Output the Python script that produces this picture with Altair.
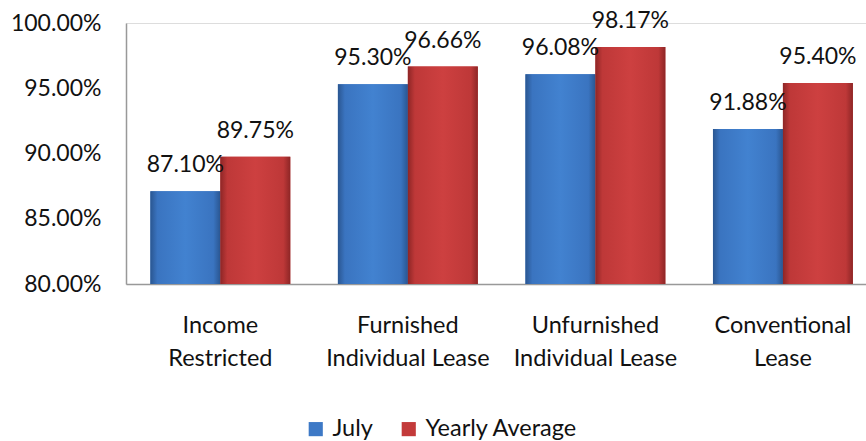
import altair as alt
import pandas as pd

categories = ["Income\nRestricted", "Furnished\nIndividual Lease", "Unfurnished\nIndividual Lease", "Conventional\nLease"]
series = ["July", "Yearly Average"]
july = [0.8710, 0.9530, 0.9608, 0.9188]
yearly = [0.8975, 0.9666, 0.9817, 0.9540]
y_ticks = [0.80, 0.85, 0.90, 0.95, 1.00]

rows = []
for c, j, y in zip(categories, july, yearly):
    rows.append({"cat": c, "series": "July", "value": j})
    rows.append({"cat": c, "series": "Yearly Average", "value": y})
df = pd.DataFrame(rows)

FONT = "Lato"
blue, red = "#3D79C6", "#C33A3A"

x_enc = alt.X("cat:N", sort=categories, title=None,
              scale=alt.Scale(paddingInner=0.254, paddingOuter=0.1, align=0.65),
              axis=alt.Axis(labelExpr="split(datum.label, '\\n')", labelAngle=0,
                            labelFontSize=23.5, labelFont=FONT, labelColor="#111",
                            labelLineHeight=33, labelPadding=29, ticks=False,
                            domainColor="#999", domainWidth=1.5))
y_enc = alt.Y("value:Q", title=None,
              scale=alt.Scale(domain=[0.8, 1.0], clamp=True),
              axis=alt.Axis(values=y_ticks, format=".2%", grid=False, ticks=False,
                            labelFontSize=23, labelFont=FONT, labelColor="#111",
                            labelPadding=25, domainColor="#999", domainWidth=1.5))
xo = alt.XOffset("series:N", sort=series)

base = alt.Chart(df)

bars = base.mark_bar().encode(
    x=x_enc, y=y_enc, xOffset=xo, y2=alt.datum(0.8),
    color=alt.Color("series:N", sort=series,
                    scale=alt.Scale(domain=series, range=[blue, red]),
                    legend=alt.Legend(title=None, orient="none", direction="horizontal",
                                      legendX=178, legendY=394, symbolType="square",
                                      symbolSize=200, labelFontSize=23.5, labelFont=FONT,
                                      labelColor="#111", columnPadding=24, labelOffset=5,
                                      symbolStrokeWidth=0)),
)

def grad(dark, mid, light):
    return alt.Gradient(gradient="linear", x1=0, x2=1, y1=0, y2=0,
                        stops=[alt.GradientStop(color=dark, offset=0),
                               alt.GradientStop(color=mid, offset=0.1),
                               alt.GradientStop(color=light, offset=0.5),
                               alt.GradientStop(color=mid, offset=0.9),
                               alt.GradientStop(color=dark, offset=1)])

blue_g = base.transform_filter(alt.datum.series == "July").mark_bar(
    fill=grad("#2A5691", "#3A74C0", "#4282D0")).encode(x=x_enc, y=y_enc, y2=alt.datum(0.8), xOffset=xo)
red_g = base.transform_filter(alt.datum.series == "Yearly Average").mark_bar(
    fill=grad("#8E2626", "#BE3838", "#CD4040")).encode(x=x_enc, y=y_enc, y2=alt.datum(0.8), xOffset=xo)

labels = base.mark_text(baseline="bottom", dy=-14, fontSize=23, font=FONT, color="#111").encode(
    x=x_enc, y=y_enc, xOffset=xo, text=alt.Text("value:Q", format=".2%"))

chart = alt.layer(bars, blue_g, red_g, labels).properties(
    width=740, height=261,
    autosize=alt.AutoSizeParams(type="none"),
    padding={"left": 126, "top": 23, "right": 0, "bottom": 157},
).configure_view(stroke=None).configure(background="white")

chart.save("out.html", embed_options={"renderer": "svg", "actions": False})
